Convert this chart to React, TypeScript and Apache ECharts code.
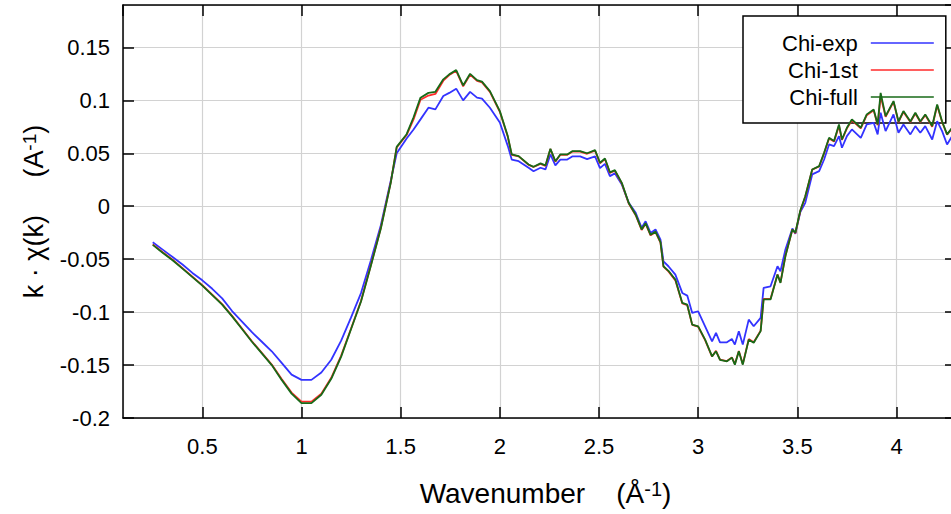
import React, { useEffect, useRef } from "react";
import * as echarts from "echarts";

const K = [
  0.25, 0.3, 0.35, 0.4, 0.45, 0.5, 0.55, 0.6, 0.65, 0.7,
  0.75, 0.8, 0.85, 0.9, 0.95, 1.0, 1.05, 1.1, 1.15, 1.2,
  1.25, 1.3, 1.35, 1.4, 1.45, 1.48, 1.53, 1.565, 1.6, 1.64,
  1.675, 1.715, 1.745, 1.78, 1.815, 1.85, 1.885, 1.91, 1.95, 2.0,
  2.04, 2.06, 2.095, 2.145, 2.17, 2.205, 2.23, 2.255, 2.28, 2.305,
  2.34, 2.365, 2.405, 2.44, 2.48, 2.505, 2.53, 2.555, 2.58, 2.615,
  2.65, 2.685, 2.715, 2.735, 2.76, 2.785, 2.81, 2.825, 2.85, 2.885,
  2.92, 2.945, 2.97, 3.0, 3.035, 3.07, 3.09, 3.11, 3.145, 3.17,
  3.185, 3.205, 3.225, 3.255, 3.28, 3.315, 3.33, 3.365, 3.4, 3.415,
  3.44, 3.475, 3.49, 3.515, 3.54, 3.575, 3.61, 3.635, 3.66, 3.685,
  3.71, 3.725, 3.75, 3.775, 3.82, 3.85, 3.885, 3.905, 3.92, 3.945,
  3.985, 4.01, 4.035, 4.07, 4.095, 4.12, 4.145, 4.18, 4.205, 4.23,
  4.255, 4.28, 4.3,
];

const CHI_EXP = [
  -0.034, -0.041, -0.048, -0.055, -0.063, -0.07, -0.078, -0.087, -0.099, -0.109,
  -0.119, -0.128, -0.137, -0.148, -0.159, -0.164, -0.164, -0.157, -0.145, -0.127,
  -0.105, -0.082, -0.051, -0.018, 0.024, 0.05, 0.064, 0.0725, 0.082, 0.093,
  0.0914, 0.104, 0.107, 0.111, 0.0999, 0.108, 0.1025, 0.1015, 0.093, 0.079,
  0.057, 0.0441, 0.0425, 0.0363, 0.033, 0.0363, 0.0347, 0.0489, 0.0385, 0.044,
  0.044, 0.047, 0.047, 0.0445, 0.047, 0.036, 0.04, 0.0284, 0.031, 0.0205,
  0.0032, -0.0063, -0.0204, -0.0142, -0.0252, -0.022, -0.0315, -0.052, -0.0567, -0.0646,
  -0.0819, -0.0844, -0.1008, -0.0992, -0.1134, -0.1276, -0.1197, -0.1285, -0.1285, -0.1254,
  -0.1307, -0.1181, -0.1307, -0.1071, -0.1134, -0.1055, -0.0771, -0.0756, -0.0567, -0.0614,
  -0.0409, -0.021, -0.026, -0.0055, 0.0032, 0.03, 0.0331, 0.0441, 0.0583, 0.0567,
  0.0662, 0.0552, 0.0662, 0.0725, 0.0646, 0.0772, 0.0788, 0.0678, 0.0883, 0.0709,
  0.0867, 0.0694, 0.0772, 0.0678, 0.0756, 0.0694, 0.0756, 0.063, 0.0803, 0.0709,
  0.0583, 0.066, 0.062,
];

const CHI_1ST = [
  -0.036, -0.0435, -0.0505, -0.0585, -0.0665, -0.0745, -0.0835, -0.0925, -0.1035, -0.1155,
  -0.1275, -0.1385, -0.1495, -0.1632, -0.176, -0.1845, -0.1845, -0.177, -0.162, -0.141,
  -0.1155, -0.0895, -0.0555, -0.0205, 0.0225, 0.0555, 0.0672, 0.082, 0.1005, 0.1045,
  0.106, 0.1185, 0.1238, 0.1279, 0.1132, 0.1242, 0.1183, 0.117, 0.108, 0.0892,
  0.0655, 0.0485, 0.047, 0.039, 0.037, 0.04, 0.038, 0.054, 0.042, 0.0485,
  0.0485, 0.0515, 0.0515, 0.0495, 0.0525, 0.0405, 0.0445, 0.0315, 0.0335, 0.0215,
  0.0025, -0.0085, -0.0225, -0.0165, -0.0275, -0.0245, -0.0345, -0.057, -0.0615, -0.07,
  -0.0918, -0.0935, -0.112, -0.1138, -0.1265, -0.142, -0.1365, -0.1448, -0.1462, -0.1428,
  -0.149, -0.1368, -0.149, -0.1255, -0.1285, -0.1175, -0.0875, -0.0875, -0.0645, -0.072,
  -0.0468, -0.022, -0.0255, -0.0045, 0.009, 0.0345, 0.0375, 0.05, 0.064, 0.061,
  0.076, 0.0625, 0.0735, 0.081, 0.0735, 0.086, 0.0905, 0.0765, 0.104, 0.0845,
  0.0985, 0.0795, 0.089, 0.0795, 0.0875, 0.0795, 0.086, 0.075, 0.095, 0.0795,
  0.0675, 0.0735, 0.0695,
];

const CHI_FULL = [
  -0.0365, -0.044, -0.051, -0.059, -0.067, -0.075, -0.084, -0.093, -0.104, -0.116,
  -0.128, -0.139, -0.15, -0.164, -0.177, -0.186, -0.186, -0.178, -0.163, -0.142,
  -0.116, -0.09, -0.056, -0.021, 0.022, 0.056, 0.068, 0.084, 0.1025, 0.107,
  0.108, 0.1198, 0.1245, 0.1286, 0.114, 0.125, 0.119, 0.1176, 0.1087, 0.0898,
  0.0662, 0.0489, 0.0473, 0.0394, 0.0372, 0.0404, 0.0385, 0.0542, 0.0425, 0.0489,
  0.0489, 0.052, 0.052, 0.05, 0.053, 0.041, 0.045, 0.032, 0.034, 0.022,
  0.003, -0.008, -0.022, -0.016, -0.027, -0.024, -0.034, -0.0567, -0.061, -0.0693,
  -0.0913, -0.093, -0.1118, -0.1134, -0.126, -0.1418, -0.137, -0.145, -0.1465, -0.143,
  -0.1496, -0.137, -0.1496, -0.126, -0.129, -0.118, -0.088, -0.088, -0.0646, -0.0724,
  -0.047, -0.022, -0.025, -0.004, 0.0094, 0.0347, 0.0378, 0.0504, 0.0646, 0.0615,
  0.0772, 0.063, 0.0741, 0.082, 0.0741, 0.0867, 0.0914, 0.0772, 0.107, 0.0851,
  0.0993, 0.08, 0.0898, 0.08, 0.0883, 0.08, 0.0867, 0.0757, 0.0961, 0.08,
  0.0678, 0.074, 0.07,
];

const SERIES_NAMES = ["Chi-exp", "Chi-1st", "Chi-full"];
const SERIES_COLORS = ["#3333ff", "#ff2a2a", "#176a17"];
const X_TITLE = "{a|Wavenumber    (Å}{s|-1}{a|)}";
const Y_TITLE = "{a|k · χ(k)     (A}{s|-1}{a|)}";

const FONT = "'Liberation Sans', Arial, sans-serif";

export default function App() {
  const ref = useRef<HTMLDivElement>(null);

  useEffect(() => {
    if (!ref.current) return;
    const chart = echarts.init(ref.current, undefined, { renderer: "svg" });
    const values = [CHI_EXP, CHI_1ST, CHI_FULL];
    const xRich = {
      a: { fontSize: 28, fontFamily: FONT, color: "#000", lineHeight: 28 },
      s: { fontSize: 20, fontFamily: FONT, color: "#000", lineHeight: 14, verticalAlign: "top" },
    };
    const yRich = {
      a: { fontSize: 27, fontFamily: FONT, color: "#000", lineHeight: 27 },
      s: { fontSize: 19, fontFamily: FONT, color: "#000", lineHeight: 13, verticalAlign: "top" },
    };
    const frameLine = { show: true, onZero: false, lineStyle: { color: "#000", width: 1.5 } };
    const tick = { show: true, inside: true, length: 11, lineStyle: { color: "#000", width: 1.5 } };
    const xBase = { type: "value", min: 0.1, max: 4.3, minInterval: 0.5, maxInterval: 0.5, splitNumber: 8 };
    const yBase = { type: "value", min: -0.2, max: 0.19, minInterval: 0.05, maxInterval: 0.05, splitNumber: 8 };
    chart.setOption({
      animation: false,
      backgroundColor: "#fff",
      grid: { left: 123, top: 5, right: 4, bottom: 96, containLabel: false },
      legend: {
        orient: "vertical",
        left: 743,
        top: 16,
        align: "right",
        icon: "rect",
        itemWidth: 63,
        itemHeight: 1.5,
        itemGap: 5,
        padding: [16, 12, 15, 39],
        backgroundColor: "#fff",
        borderColor: "#000",
        borderWidth: 1.5,
        borderRadius: 0,
        z: 1,
        textStyle: { fontSize: 22, fontFamily: FONT, color: "#000", padding: [0, 8, 0, 0] },
        data: SERIES_NAMES,
      },
      xAxis: [
        {
          ...xBase,
          position: "bottom",
          name: X_TITLE,
          nameLocation: "middle",
          nameGap: 61,
          nameTextStyle: { rich: xRich, padding: [0, 0, 0, 12] },
          axisLine: frameLine,
          axisTick: tick,
          axisLabel: { show: true, margin: 17, fontSize: 22, fontFamily: FONT, color: "#000", showMinLabel: false, showMaxLabel: false },
          splitLine: { show: true, lineStyle: { color: "#d2d2d2", width: 1.2 } },
        },
        {
          ...xBase,
          position: "top",
          axisLine: frameLine,
          axisTick: tick,
          axisLabel: { show: false },
          splitLine: { show: false },
        },
      ],
      yAxis: [
        {
          ...yBase,
          position: "left",
          name: Y_TITLE,
          nameLocation: "middle",
          nameRotate: 90,
          nameGap: 76,
          nameTextStyle: { rich: yRich },
          axisLine: frameLine,
          axisTick: tick,
          axisLabel: { show: true, margin: 13, fontSize: 22, fontFamily: FONT, color: "#000", showMinLabel: true, showMaxLabel: false },
          splitLine: { show: true, lineStyle: { color: "#d2d2d2", width: 1.2 } },
        },
        {
          ...yBase,
          position: "right",
          axisLine: frameLine,
          axisTick: tick,
          axisLabel: { show: false },
          splitLine: { show: false },
        },
      ],
      series: SERIES_NAMES.map((name, i) => ({
        name,
        type: "line",
        xAxisIndex: 0,
        yAxisIndex: 0,
        z: 2,
        symbol: "none",
        showSymbol: false,
        color: SERIES_COLORS[i],
        itemStyle: { color: SERIES_COLORS[i] },
        lineStyle: { color: SERIES_COLORS[i], width: 1.8 },
        data: K.map((k, j) => [k, values[i][j]]),
      })),
    });
    return () => chart.dispose();
  }, []);

  return (
    <div style={{ position: "fixed", left: 0, top: 0, width: "100vw", height: "100vh", overflow: "hidden", background: "#fff" }}>
      <div ref={ref} style={{ width: 960, height: 514 }} />
    </div>
  );
}
